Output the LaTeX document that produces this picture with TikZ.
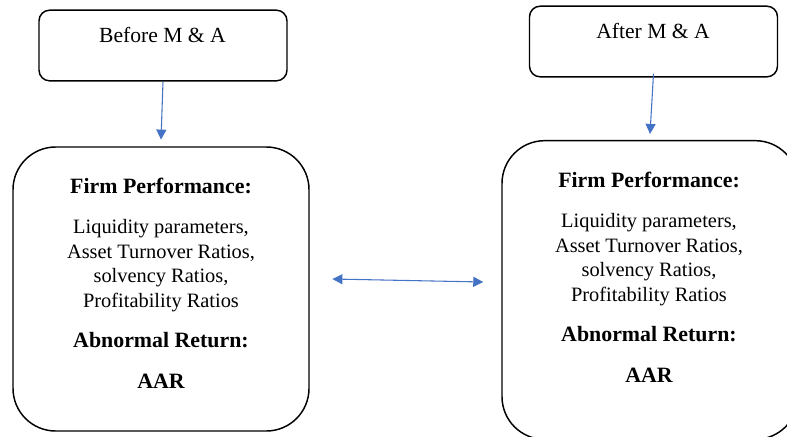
\documentclass[tikz,border=0pt]{standalone}
\usepackage{fontspec}
\setmainfont{Liberation Serif}
\newfontfamily\timesfont{Liberation Serif}
\usetikzlibrary{arrows.meta,positioning}

\definecolor{arrowblue}{HTML}{4472C4}
\newcommand{\headline}[1]{{\fontsize{16.4}{18.4}\selectfont\bfseries #1}}

\tikzset{
  stagebox/.style={draw,line width=1.1pt,rounded corners=8pt,minimum width=186pt,minimum height=53pt},
  firmbox/.style={draw,line width=1.1pt,rounded corners=32pt,minimum width=222pt,minimum height=213pt},
  flow/.style={arrowblue,line width=0.8pt,-{Triangle[length=7.5pt,width=7.5pt]}},
  both/.style={arrowblue,line width=0.8pt,{Triangle[length=7.5pt,width=7.5pt]}-{Triangle[length=7.5pt,width=7.5pt]}},
  firmtext/.style={align=center,anchor=north,font=\timesfont\fontsize{15.3}{18.4}\selectfont},
  stagetext/.style={font=\timesfont\fontsize{16.2}{19}\selectfont}
}

\begin{document}
\begin{tikzpicture}[x=0.75pt,y=-0.75pt]
  \useasboundingbox (0,0) rectangle (787,436);
  % top boxes
  \node[stagebox] (before) at (163,45.5) {};
  \node[stagetext] (beforetxt) at (162.5,35) {Before M \& A};
  \node[stagebox] (after) at (653.5,41.5) {};
  \node[stagetext] (aftertxt) at (653,31) {After M \& A};
  % firm performance boxes
  \node[firmbox] (firmL) at (161,289) {};
  \node[firmbox,minimum height=224pt] (firmR) at (650,290) {};
  \node[firmtext] (firmLtxt) at (161,173) {\headline{Firm Performance:}\\[12pt]
    Liquidity parameters,\\ Asset Turnover Ratios,\\ solvency Ratios,\\ Profitability Ratios\\[12pt]
    \headline{Abnormal Return:}\\[12pt] \headline{AAR}};
  \node[firmtext] (firmRtxt) at (649,167) {\headline{Firm Performance:}\\[12pt]
    Liquidity parameters,\\ Asset Turnover Ratios,\\ solvency Ratios,\\ Profitability Ratios\\[12pt]
    \headline{Abnormal Return:}\\[12pt] \headline{AAR}};
  % arrows
  \draw[flow] (before.south) -- ([yshift=5pt]firmL.north);
  \draw[flow] ([yshift=3pt]after.south) -- ([yshift=4.5pt]firmR.north);
  \draw[both] ([xshift=17pt,yshift=7.5pt]firmL.east) -- ([xshift=-13.5pt,yshift=6pt]firmR.west);
\end{tikzpicture}
\end{document}
